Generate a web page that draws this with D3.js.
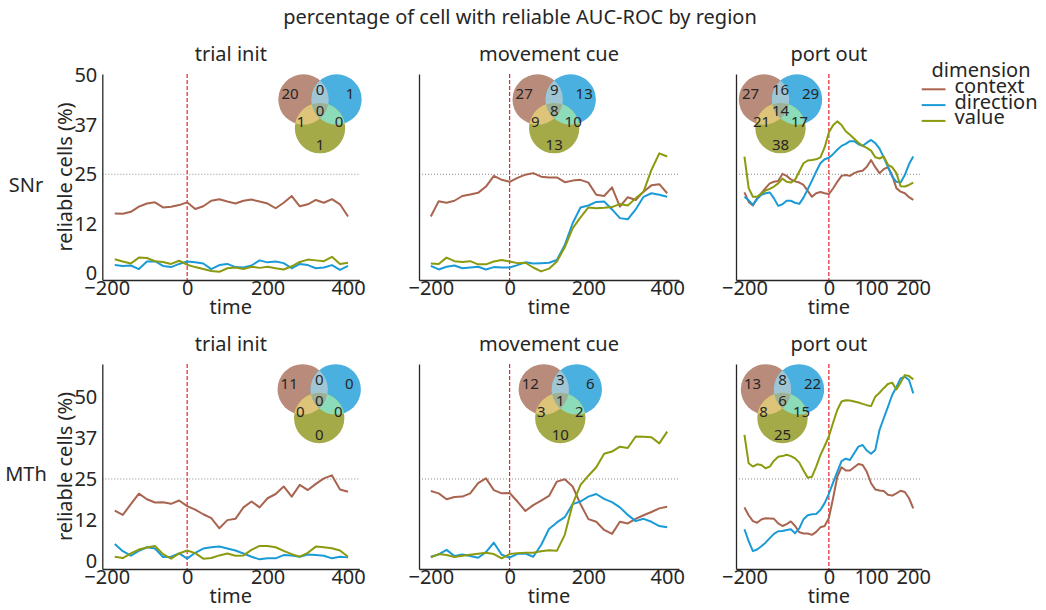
<!DOCTYPE html>
<html><head><meta charset="utf-8">
<script src="https://cdn.jsdelivr.net/npm/d3@7"></script>
<style>
body{margin:0;background:#fff}
svg{display:block}
text{font-family:"Noto Sans",sans-serif;fill:#262626}
</style>
</head><body>
<svg id="chart" width="1046" height="610"></svg>
<script>
// ---------------- DATA ----------------
const regions = ["SNr", "MTh"];
const events = ["trial init", "movement cue", "port out"];
const dimensions = ["context", "direction", "value"];

const timeTrialInit = [-180,-160,-140,-120,-100,-80,-60,-40,-20,0,20,40,60,80,100,120,140,160,180,200,220,240,260,280,300,320,340,360,380,400];
const timeMovementCue = [-200,-180,-160,-140,-120,-100,-80,-60,-40,-20,0,20,40,60,80,100,120,140,160,180,200,220,240,260,280,300,320,340,360,380,400];
const timePortOut = [-200,-190,-180,-170,-160,-150,-140,-130,-120,-110,-100,-90,-80,-70,-60,-50,-40,-30,-20,-10,0,10,20,30,40,50,60,70,80,90,100,110,120,130,140,150,160,170,180,190,200];

// SNr
const snrTrialContext   = [15.1,15.0,15.5,16.8,17.6,17.9,16.6,16.8,17.2,17.9,16.2,16.9,18.3,18.7,18.1,17.6,18.3,18.6,18.1,17.6,16.4,17.8,19.5,16.9,17.4,18.5,17.8,18.7,17.4,14.3];
const snrTrialDirection = [2.0,1.8,1.9,1.0,2.9,3.0,1.8,1.5,2.3,2.9,2.7,2.4,1.0,2.0,2.3,1.5,1.4,1.9,3.2,2.7,2.9,2.5,1.2,2.3,2.0,1.2,1.4,2.0,0.8,1.8];
const snrTrialValue     = [3.5,2.9,2.4,3.9,3.8,3.0,2.8,2.3,3.1,2.1,1.5,1.0,0.5,0.3,1.2,1.4,1.0,1.6,1.3,1.6,1.2,0.9,1.7,2.8,3.4,3.2,3.0,4.1,2.3,2.6];

const snrCueContext   = [14.3,18.2,17.8,18.3,19.5,19.9,20.3,21.9,24.6,23.6,23.1,24.1,24.9,25.3,24.4,24.2,24.2,23.0,23.4,23.6,22.9,19.8,19.5,21.7,16.8,19.2,18.5,20.6,22.2,22.5,20.2];
const snrCueDirection = [1.8,0.9,1.6,1.9,1.2,1.4,1.6,0.9,1.5,1.4,1.4,2.0,2.7,2.4,2.5,2.6,3.3,7.1,12.6,16.6,17.1,18.0,18.1,16.1,13.9,13.6,16.1,19.3,20.2,19.8,19.3];
const snrCueValue     = [2.4,2.3,3.9,3.0,2.8,3.0,2.2,2.2,2.9,3.3,2.9,2.5,2.6,1.4,0.4,1.1,2.9,6.5,11.3,14.1,16.6,16.4,16.5,16.7,17.5,17.1,18.9,20.6,26.1,30.3,29.5];

const snrPortContext   = [20.4,18.0,17.1,18.9,20.2,21.5,22.7,23.1,23.3,25.1,24.6,23.7,23.2,22.9,22.3,20.8,19.3,20.2,20.5,20.2,20.0,21.4,23.1,24.6,24.8,24.6,25.3,25.7,25.9,26.9,28.6,26.8,25.3,26.3,26.8,24.8,21.5,20.6,20.2,19.2,18.5];
const snrPortDirection = [19.3,18.4,17.3,18.7,19.8,20.2,20.4,18.9,17.0,17.4,18.3,18.3,17.8,17.5,19.1,21.2,23.4,25.7,27.8,28.8,29.2,30.1,31.2,32.2,32.7,33.4,33.4,32.6,32.2,33.0,33.7,32.9,31.5,29.3,26.9,24.4,23.1,22.9,24.8,27.6,29.5];
const snrPortValue     = [29.5,21.5,19.3,19.3,20.1,20.9,21.3,21.9,22.7,23.9,23.1,22.9,23.6,25.7,27.8,28.5,28.6,28.8,29.3,31.8,35.6,37.4,38.4,37.5,35.9,35.0,34.0,33.0,32.2,31.7,31.0,29.3,29.0,29.5,27.4,26.8,25.3,22.0,21.9,22.3,22.9];

// MTh
const mthTrialContext   = [15.3,14.0,17.3,20.5,18.8,17.8,17.9,17.4,18.4,16.7,15.6,14.2,13.0,9.9,12.4,12.8,16.3,18.1,16.3,19.1,20.4,22.7,19.6,23.2,21.6,23.5,25.2,26.1,21.8,21.1];
const mthTrialDirection = [5.1,2.9,1.5,3.0,4.1,3.7,1.1,1.2,2.2,0.6,2.4,3.7,4.1,4.3,3.7,3.1,2.2,1.2,0.4,0.7,0.7,1.7,1.6,1.2,1.9,1.7,1.5,0.7,1.2,1.0];
const mthTrialValue     = [1.2,0.8,2.2,3.4,4.0,4.5,2.0,0.6,2.2,3.1,2.3,0.6,0.8,1.6,2.2,1.5,1.6,3.3,4.5,4.5,4.1,3.0,2.0,1.2,2.4,4.3,4.1,3.8,3.1,1.2];

const mthCueContext   = [21.3,20.6,18.8,19.5,19.6,20.6,23.7,25.2,21.6,20.6,20.7,18.1,15.2,17.0,18.4,19.8,24.2,24.9,22.7,17.3,12.7,11.9,9.4,8.2,11.9,11.4,12.8,13.9,14.9,16.0,16.5];
const mthCueDirection = [1.2,1.9,3.3,1.4,1.9,1.4,0.9,2.6,5.5,1.8,0.9,2.1,2.2,1.2,4.8,9.7,11.7,13.3,17.3,18.1,19.6,20.4,18.9,17.9,16.3,14.0,12.1,12.8,11.9,10.6,10.2];
const mthCueValue     = [1.0,2.0,1.7,1.1,1.5,1.8,2.1,2.4,2.0,0.7,2.0,2.3,2.4,2.4,2.9,3.2,3.0,7.9,17.3,23.2,26.0,28.6,32.7,33.4,34.9,34.5,38.0,37.9,37.8,35.9,39.5];

const mthPortContext   = [16.3,13.9,12.1,11.6,12.6,13.0,12.9,12.8,11.4,10.6,11.2,12.0,10.6,8.7,8.3,8.3,7.9,8.8,10.2,10.6,13.0,19.1,25.7,28.6,27.6,27.6,28.6,29.6,29.3,27.2,23.7,21.8,21.5,21.3,20.2,19.9,20.6,21.4,21.0,19.1,16.0];
const mthPortDirection = [9.6,6.0,2.9,3.4,4.4,5.5,6.9,8.2,9.0,9.1,9.4,9.6,8.4,9.9,12.7,13.9,14.2,14.3,15.5,17.6,20.4,23.9,27.2,30.5,31.2,30.8,32.9,34.9,35.4,33.7,32.7,33.9,40.0,43.6,47.1,50.7,53.1,55.8,56.3,55.3,51.2];
const mthPortValue     = [38.5,29.8,28.8,29.5,29.3,28.3,28.8,30.6,31.8,32.0,32.4,32.0,31.3,30.0,27.6,25.4,25.7,28.8,32.3,35.1,38.0,42.2,46.1,48.7,49.1,49.0,48.7,48.4,48.0,47.6,47.3,50.2,51.4,52.8,54.1,54.5,52.4,54.5,56.8,56.5,55.5];

// Venn counts: [context only, ctx∩dir, direction only, all three, ctx∩val, dir∩val, value only]
const vennSnrTrial = [20,0,1,0,1,0,1];
const vennSnrCue   = [27,9,13,8,9,10,13];
const vennSnrPort  = [27,16,29,14,21,17,38];
const vennMthTrial = [11,0,0,0,0,0,0];
const vennMthCue   = [12,3,6,1,3,2,10];
const vennMthPort  = [13,8,22,6,8,15,25];

// Tick labels
const yTickValues = [0, 12.5, 25, 37.5, 50];
const yTickLabels = ["0", "12", "25", "37", "50"];
const xTicksLong = [-200, 0, 200, 400];
const xTickLabelsLong = ["\u2212200", "0", "200", "400"];
const xTicksPort = [-200, 0, 100, 200];
const xTickLabelsPort = ["\u2212200", "0", "100", "200"];
const chanceLevel = 25;

// ---------------- STRUCTURE ----------------
const panelData = [
  [
    {time: timeTrialInit, series: [snrTrialContext, snrTrialDirection, snrTrialValue], venn: vennSnrTrial},
    {time: timeMovementCue, series: [snrCueContext, snrCueDirection, snrCueValue], venn: vennSnrCue},
    {time: timePortOut, series: [snrPortContext, snrPortDirection, snrPortValue], venn: vennSnrPort}
  ],
  [
    {time: timeTrialInit, series: [mthTrialContext, mthTrialDirection, mthTrialValue], venn: vennMthTrial},
    {time: timeMovementCue, series: [mthCueContext, mthCueDirection, mthCueValue], venn: vennMthCue},
    {time: timePortOut, series: [mthPortContext, mthPortDirection, mthPortValue], venn: vennMthPort}
  ]
];

// ---------------- STYLE / LAYOUT ----------------
const lineColors = ["#a8644f", "#1a9bd7", "#8b9a0e"];
const vennFill = {A:"#b98b7a", B:"#4ab0e0", C:"#a5aa48", AB:"#a0c6d6", AC:"#ddc478", BC:"#8cdcb9", ABC:"#9eb096"};
const ink = "#262626";

const colLayout = [
  {x0:102.3, x1:359.3, dom:[-211, 428], ticks:xTicksLong, labels:xTickLabelsLong},
  {x0:419,   x1:679,   dom:[-230, 430], ticks:xTicksLong, labels:xTickLabelsLong},
  {x0:736,   x1:921.7, dom:[-220, 220], ticks:xTicksPort, labels:xTickLabelsPort}
];
const rowLayout = [
  {y0:74,  y1:280, dom:[-1.77, 50.4]},
  {y0:364, y1:569, dom:[-2.56, 60.2]}
];
const vennCenters = [
  [[320, 109], [554.2, 109], [780.5, 109]],
  [[319.2, 398.9], [560.3, 398.9], [782.5, 398.9]]
];

const svg = d3.select("#chart");
const defs = svg.append("defs");

svg.append("text").attr("x", 520).attr("y", 23.5).attr("text-anchor", "middle")
  .style("font-size", "20px").text("percentage of cell with reliable AUC-ROC by region");

let clipId = 0;
function drawVenn(g, cx, cy, counts) {
  const r = 25.2;
  const A = [cx - 16.5, cy - 9.5], B = [cx + 16.5, cy - 9.5], C = [cx, cy + 19.1];
  const k = clipId++;
  [["A", A], ["B", B], ["C", C]].forEach(([n, c]) => {
    defs.append("clipPath").attr("id", `v${n}${k}`)
      .append("circle").attr("cx", c[0]).attr("cy", c[1]).attr("r", r);
  });
  const circ = (c, fill, parent) => (parent || g).append("circle").attr("cx", c[0]).attr("cy", c[1]).attr("r", r).attr("fill", fill);
  circ(A, vennFill.A); circ(B, vennFill.B); circ(C, vennFill.C);
  const gAB = g.append("g").attr("clip-path", `url(#vA${k})`); circ(B, vennFill.AB, gAB);
  const gAC = g.append("g").attr("clip-path", `url(#vA${k})`); circ(C, vennFill.AC, gAC);
  const gBC = g.append("g").attr("clip-path", `url(#vB${k})`); circ(C, vennFill.BC, gBC);
  const gABo = g.append("g").attr("clip-path", `url(#vA${k})`);
  const gABC = gABo.append("g").attr("clip-path", `url(#vB${k})`); circ(C, vennFill.ABC, gABC);
  const offs = [[-30,-16],[0,-20],[30,-16],[0,1],[-19,12],[19,12],[0,35]];
  counts.forEach((n, i) => {
    g.append("text").attr("x", cx + offs[i][0]).attr("y", cy + offs[i][1])
      .attr("text-anchor", "middle").attr("dominant-baseline", "central")
      .style("font-size", "15px").text(n);
  });
}

rowLayout.forEach((row, ri) => {
  colLayout.forEach((col, ci) => {
    const pd = panelData[ri][ci];
    const x = d3.scaleLinear().domain(col.dom).range([col.x0, col.x1]);
    const y = d3.scaleLinear().domain(row.dom).range([row.y1, row.y0]);
    const g = svg.append("g");

    // chance line
    g.append("line").attr("x1", col.x0).attr("x2", col.x1).attr("y1", y(chanceLevel)).attr("y2", y(chanceLevel))
      .attr("stroke", "#8a8a8a").attr("stroke-width", 1).attr("stroke-dasharray", "1,2");
    // event line
    g.append("line").attr("x1", x(0)).attr("x2", x(0)).attr("y1", row.y0).attr("y2", row.y1)
      .attr("stroke", "#e8232a").attr("stroke-width", 1.2).attr("stroke-dasharray", "4,2");

    // series
    const line = d3.line().x((d, i) => x(pd.time[i])).y(d => y(d));
    pd.series.forEach((s, si) => {
      g.append("path").datum(s).attr("d", line).attr("fill", "none")
        .attr("stroke", lineColors[si]).attr("stroke-width", 2).attr("stroke-linejoin", "round");
    });

    // axes
    const xAxis = d3.axisBottom(x).tickValues(col.ticks).tickSize(0).tickSizeOuter(0).tickPadding(1)
      .tickFormat((d, i) => col.labels[i]);
    const gx = g.append("g").attr("transform", `translate(0,${row.y1})`).call(xAxis);
    gx.selectAll("text").style("font-size", "20px").attr("fill", ink).style("font-family", '"Noto Sans",sans-serif');

    const yAxis = d3.axisLeft(y).tickValues(ci === 0 ? yTickValues : []).tickSize(0).tickSizeOuter(0).tickPadding(5)
      .tickFormat((d, i) => yTickLabels[i]);
    const gy = g.append("g").attr("transform", `translate(${col.x0},0)`).call(yAxis);
    gy.selectAll("text").style("font-size", "20px").attr("fill", ink).style("font-family", '"Noto Sans",sans-serif');
    [gx, gy].forEach(a => a.select(".domain").attr("stroke", ink).attr("stroke-width", 1.3));

    // titles / labels
    const cxm = (col.x0 + col.x1) / 2;
    g.append("text").attr("x", cxm).attr("y", row.y0 - 13).attr("text-anchor", "middle")
      .style("font-size", "20px").text(events[ci]);
    g.append("text").attr("x", cxm).attr("y", row.y1 + 34).attr("text-anchor", "middle")
      .style("font-size", "20px").text("time");
    if (ci === 0) {
      g.append("text").attr("transform", `translate(64,${(row.y0 + row.y1) / 2}) rotate(-90)`)
        .attr("text-anchor", "middle").attr("dominant-baseline", "central")
        .style("font-size", "20px").text("reliable cells (%)");
      g.append("text").attr("x", 26).attr("y", (row.y0 + row.y1) / 2 + 14.5).attr("text-anchor", "middle")
        .style("font-size", "20px").text(regions[ri]);
    }

    // venn
    const vc = vennCenters[ri][ci];
    drawVenn(svg.append("g"), vc[0], vc[1], pd.venn);
  });
});

// legend
const lg = svg.append("g");
lg.append("text").attr("x", 981).attr("y", 77).attr("text-anchor", "middle").style("font-size", "20px").text("dimension");
dimensions.forEach((d, i) => {
  const ly = 89.3 + i * 15.8;
  lg.append("line").attr("x1", 921.7).attr("x2", 945.5).attr("y1", ly).attr("y2", ly)
    .attr("stroke", lineColors[i]).attr("stroke-width", 2);
  lg.append("text").attr("x", 954.5).attr("y", ly + 3.5).style("font-size", "20px").text(d);
});
</script>
</body></html>
